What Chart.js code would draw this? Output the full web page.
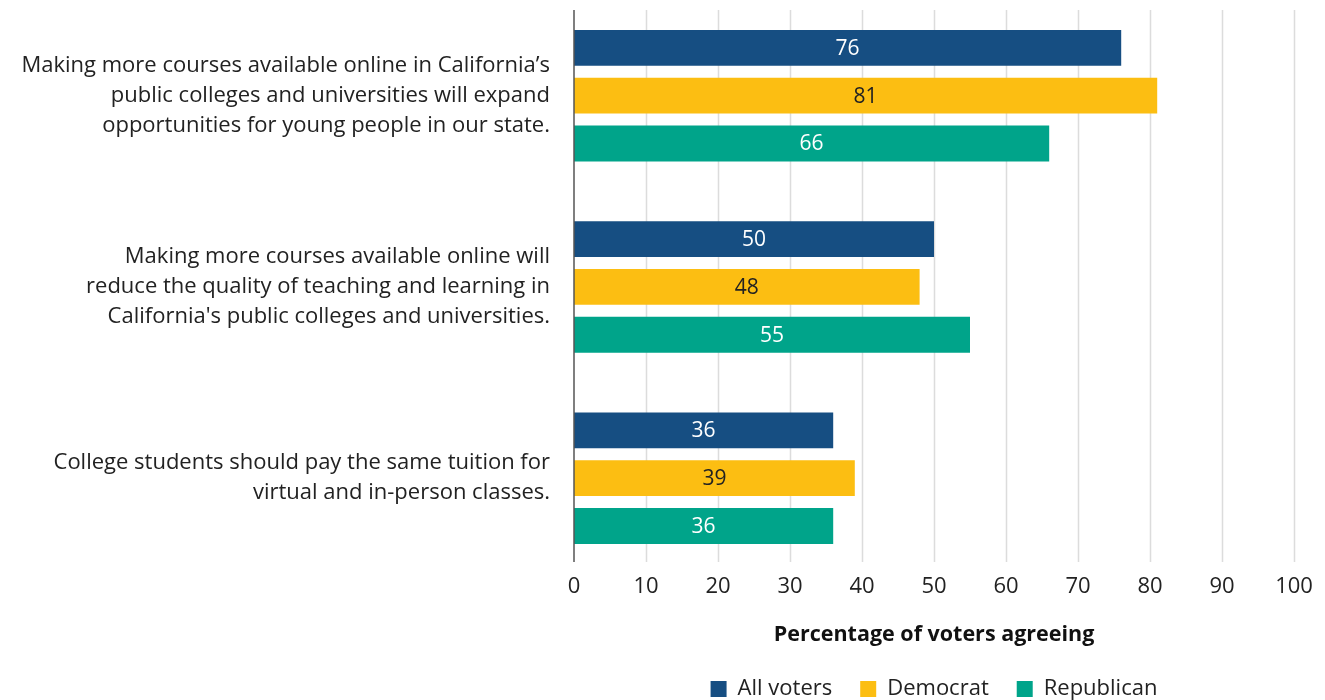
<!DOCTYPE html>
<html>
<head>
<meta charset="utf-8">
<script src="https://cdn.jsdelivr.net/npm/chart.js@4/dist/chart.umd.min.js"></script>
<style>
  html, body { margin: 0; padding: 0; background: #fff; }
  #wrap { width: 1325px; height: 700px; position: relative; }
</style>
</head>
<body>
<div id="wrap"><canvas id="surveyChart"></canvas></div>
<script>
const statements = [
    ["Making more courses available online in California\u2019s", "public colleges and universities will expand", "opportunities for young people in our state."],
    ["Making more courses available online will", "reduce the quality of teaching and learning in", "California's public colleges and universities."],
    ["College students should pay the same tuition for", "virtual and in-person classes."]
];
const seriesNames = ['All voters', 'Democrat', 'Republican'];
const allVoters = [76, 50, 36];
const democrat = [81, 48, 39];
const republican = [66, 55, 36];
const axisTitle = 'Percentage of voters agreeing';

const colors = ['#164e82', '#fcbe12', '#00a48a'];
const valueColors = ['#ffffff', '#222222', '#ffffff'];
const FONT = '"Open Sans", Lato, sans-serif';

// grid lines only cover the middle part of the plot, like the original
const gridPlugin = {
    id: 'partialGrid',
    beforeDatasetsDraw(chart) {
        const { ctx, scales: { x } } = chart;
        ctx.save();
        ctx.strokeStyle = '#dcdcdc';
        ctx.lineWidth = 1.5;
        x.ticks.forEach(t => {
            if (t.value === 0) return;
            const px = Math.round(x.getPixelForValue(t.value)) + 0.5;
            ctx.beginPath();
            ctx.moveTo(px, 10);
            ctx.lineTo(px, 562);
            ctx.stroke();
        });
        ctx.restore();
    },
    afterDatasetsDraw(chart) {
        const { ctx, scales: { x } } = chart;
        ctx.save();
        // axis line
        ctx.strokeStyle = '#555';
        ctx.lineWidth = 1.5;
        const px = x.getPixelForValue(0);
        ctx.beginPath();
        ctx.moveTo(px, 10);
        ctx.lineTo(px, 562);
        ctx.stroke();
        // value labels in the middle of each bar
        ctx.font = '21px ' + FONT;
        ctx.textAlign = 'center';
        ctx.textBaseline = 'middle';
        chart.data.datasets.forEach((ds, i) => {
            const meta = chart.getDatasetMeta(i);
            ctx.fillStyle = valueColors[i];
            meta.data.forEach((bar, j) => {
                ctx.fillText(ds.data[j], (bar.x + bar.base) / 2, bar.y + 1);
            });
        });
        ctx.restore();
    },
    afterLayout(chart) {
        // centre the legend under the plot area instead of the canvas
        const lg = chart.legend;
        if (lg) {
            lg.left = chart.chartArea.left;
            lg.right = chart.chartArea.right;
        }
    }
};

const ctx = document.getElementById('surveyChart').getContext('2d');
const surveyChart = new Chart(ctx, {
    type: 'bar',
    data: {
        labels: statements,
        datasets: [
            { label: seriesNames[0], data: allVoters, backgroundColor: colors[0] },
            { label: seriesNames[1], data: democrat, backgroundColor: colors[1] },
            { label: seriesNames[2], data: republican, backgroundColor: colors[2] }
        ]
    },
    plugins: [gridPlugin],
    options: {
        indexAxis: 'y',
        responsive: true,
        maintainAspectRatio: false,
        animation: false,
        categoryPercentage: 0.75,
        barPercentage: 0.75,
        layout: { padding: { top: 0, right: 31, bottom: -10, left: 0 } },
        plugins: {
            tooltip: { enabled: false },
            legend: {
                position: 'bottom',
                labels: {
                    font: { family: FONT, size: 22 },
                    color: '#222',
                    boxWidth: 16,
                    boxHeight: 16,
                    padding: 28
                }
            }
        },
        scales: {
            x: {
                min: 0,
                max: 100,
                ticks: {
                    stepSize: 10,
                    font: { family: FONT, size: 22 },
                    color: '#222',
                    padding: 0
                },
                grid: { display: false, drawTicks: false },
                border: { display: false },
                title: {
                    display: true,
                    text: axisTitle,
                    font: { family: FONT, size: 21.5, weight: 'bold' },
                    color: '#111',
                    padding: { top: 22, bottom: 2 }
                }
            },
            y: {
                ticks: {
                    font: { family: FONT, size: 22, lineHeight: 1.36 },
                    color: '#222',
                    padding: 24
                },
                grid: { display: false, drawTicks: false },
                border: { display: false },
                afterFit(scale) {
                    scale.width = 574;
                    scale.paddingTop = 0;
                    scale.paddingBottom = 0;
                }
            }
        }
    }
});
</script>
</body>
</html>
